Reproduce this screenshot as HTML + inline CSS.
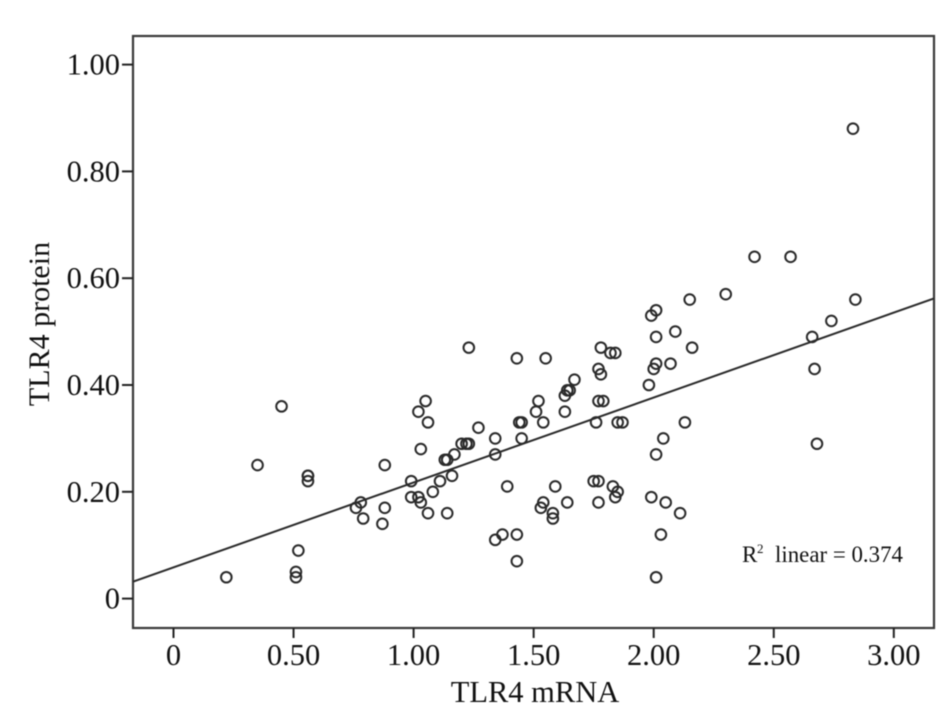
<!DOCTYPE html>
<html lang="en">
<head>
<meta charset="utf-8">
<title>TLR4 scatter</title>
<style>
html,body{margin:0;padding:0;background:#fff;width:945px;height:719px;overflow:hidden}
svg{display:block;filter:blur(0.45px)}
text{font-family:"Liberation Serif",serif;fill:#111}
</style>
</head>
<body>
<svg id="chart" xmlns="http://www.w3.org/2000/svg" width="945" height="719" viewBox="0 0 945 719"></svg>
<script>
const xTicks = [0, 0.5, 1, 1.5, 2, 2.5, 3];
const xTickLabels = ['0', '0.50', '1.00', '1.50', '2.00', '2.50', '3.00'];
const yTicks = [0, 0.2, 0.4, 0.6, 0.8, 1];
const yTickLabels = ['0', '0.20', '0.40', '0.60', '0.80', '1.00'];
const mrna = [0.22,0.35,0.45,0.51,0.51,0.52,0.56,0.56,0.56,0.76,0.78,0.79,0.87,0.88,0.88,0.99,0.99,1.02,1.03,1.02,1.03,1.05,1.06,1.06,1.08,1.11,1.13,1.14,1.14,1.16,1.17,1.20,1.22,1.23,1.23,1.27,1.34,1.34,1.34,1.37,1.39,1.43,1.43,1.43,1.44,1.45,1.45,1.51,1.52,1.53,1.54,1.54,1.55,1.58,1.58,1.59,1.63,1.63,1.64,1.64,1.65,1.67,1.75,1.76,1.77,1.77,1.77,1.77,1.78,1.78,1.79,1.82,1.83,1.84,1.84,1.85,1.85,1.87,1.98,1.99,1.99,2.00,2.01,2.01,2.01,2.01,2.01,2.03,2.04,2.05,2.07,2.09,2.11,2.13,2.15,2.16,2.30,2.42,2.57,2.66,2.67,2.68,2.74,2.83,2.84];
const protein = [0.04,0.25,0.36,0.05,0.04,0.09,0.23,0.22,0.23,0.17,0.18,0.15,0.14,0.17,0.25,0.22,0.19,0.19,0.18,0.35,0.28,0.37,0.33,0.16,0.20,0.22,0.26,0.26,0.16,0.23,0.27,0.29,0.29,0.29,0.47,0.32,0.30,0.27,0.11,0.12,0.21,0.45,0.12,0.07,0.33,0.33,0.30,0.35,0.37,0.17,0.33,0.18,0.45,0.16,0.15,0.21,0.35,0.38,0.18,0.39,0.39,0.41,0.22,0.33,0.22,0.18,0.37,0.43,0.47,0.42,0.37,0.46,0.21,0.46,0.19,0.20,0.33,0.33,0.40,0.53,0.19,0.43,0.54,0.49,0.44,0.27,0.04,0.12,0.30,0.18,0.44,0.50,0.16,0.33,0.56,0.47,0.57,0.64,0.64,0.49,0.43,0.29,0.52,0.88,0.56];
const fitIntercept = 0.0585;
const fitSlope = 0.159;

const frameLeft = 133, frameRight = 934, frameTop = 36, frameBottom = 628;
const xScale = v => 173.5 + v * 240.1;
const yScale = v => 598.6 - v * 534;
const xInverse = p => (p - 173.5) / 240.1;
const NS = 'http://www.w3.org/2000/svg';
const svg = document.getElementById('chart');

function make(tag, attrs, text) {
  const el = document.createElementNS(NS, tag);
  for (const k in attrs) el.setAttribute(k, attrs[k]);
  if (text !== undefined) el.textContent = text;
  svg.appendChild(el);
  return el;
}

const frame = make('rect', {x: frameLeft, y: frameTop, width: frameRight - frameLeft, height: frameBottom - frameTop, fill: '#fff', stroke: '#3a3a3a', 'stroke-width': 2.2});



xTicks.forEach((t, i) => {
  const tick = make('line', {x1: xScale(t), x2: xScale(t), y1: frameBottom, y2: frameBottom + 10, stroke: '#222', 'stroke-width': 2});
  
  
  const label = make('text', {x: xScale(t), y: 665, 'text-anchor': 'middle', 'font-size': 30.5}, xTickLabels[i]);
  
  
});

yTicks.forEach((t, i) => {
  const tick = make('line', {x1: frameLeft - 11, x2: frameLeft, y1: yScale(t), y2: yScale(t), stroke: '#222', 'stroke-width': 2});
  
  
  const label = make('text', {x: 120, y: yScale(t) + 10, 'text-anchor': 'end', 'font-size': 30.5}, yTickLabels[i]);
  
  
});

const fitY = v => fitIntercept + fitSlope * v;
const xa = xInverse(frameLeft), xb = xInverse(frameRight);
const fit = make('line', {x1: xScale(xa), y1: yScale(fitY(xa)), x2: xScale(xb), y2: yScale(fitY(xb)), stroke: '#2a2a2a', 'stroke-width': 2});



mrna.forEach((m, i) => {
  const pt = make('circle', {cx: xScale(m), cy: yScale(protein[i]), r: 5.3, fill: 'none', stroke: '#2a2a2a', 'stroke-width': 2});
  
  
});

const xTitle = make('text', {x: 535, y: 702, 'text-anchor': 'middle', 'font-size': 30.5}, 'TLR4 mRNA');



const yTitle = make('text', {x: 0, y: 0, transform: 'translate(49,324) rotate(-90)', 'text-anchor': 'middle', 'font-size': 30}, 'TLR4 protein');



const r1 = make('text', {x: 742, y: 562, 'font-size': 23}, 'R');


const r2 = make('text', {x: 757, y: 553, 'font-size': 13}, '2');


const r3 = make('text', {x: 775, y: 562, 'font-size': 23, textLength: 128, lengthAdjust: 'spacingAndGlyphs'}, 'linear = 0.374');


</script>
</body>
</html>
